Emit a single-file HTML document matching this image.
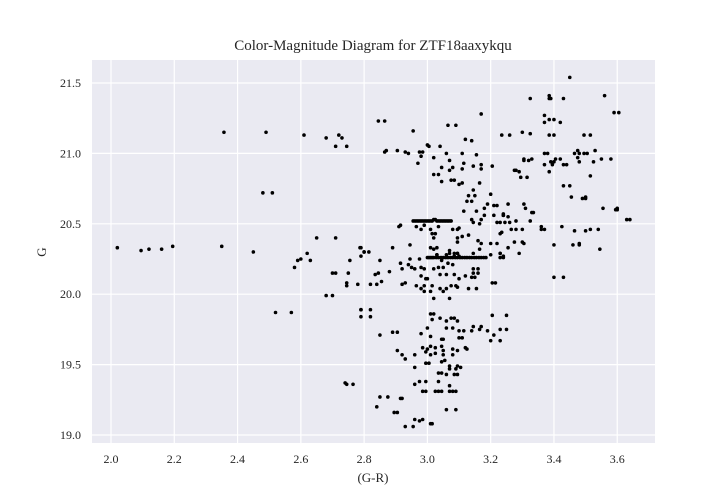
<!DOCTYPE html>
<html><head><meta charset="utf-8"><style>
body{margin:0;background:#fff;}
svg{display:block;font-family:"Liberation Serif",serif;}
</style></head><body>
<svg id="chart" width="728" height="498"></svg>
<script>
const xTicks=[2.0,2.2,2.4,2.6,2.8,3.0,3.2,3.4,3.6];
const yTicks=[19.0,19.5,20.0,20.5,21.0,21.5];
const xTickLabels=["2.0","2.2","2.4","2.6","2.8","3.0","3.2","3.4","3.6"];
const yTickLabels=["19.0","19.5","20.0","20.5","21.0","21.5"];
const samples=[
[2.357,21.15],[2.49,21.15],[2.61,21.13],[2.68,21.11],[2.72,21.13],[2.73,21.11],[2.71,21.05],[2.745,21.05],
[2.48,20.72],[2.51,20.72],[2.02,20.33],[2.095,20.31],[2.12,20.32],[2.16,20.32],[2.195,20.34],[2.35,20.34],[2.45,20.30],
[2.65,20.40],[2.71,20.40],[2.79,20.33],[2.80,20.30],[2.62,20.29],[2.59,20.24],[2.60,20.25],[2.63,20.24],[2.58,20.19],
[2.755,20.24],[2.79,20.27],[2.70,20.15],[2.71,20.15],[2.75,20.15],[2.745,20.08],[2.745,20.06],[2.78,20.07],[2.68,19.99],[2.70,19.99],
[2.52,19.87],[2.57,19.87],[2.79,19.89],[2.79,19.84],[2.74,19.37],[2.745,19.36],[2.765,19.36],
[2.845,21.23],[2.865,21.23],[2.955,21.16],[3.065,21.20],[3.09,21.20],[3.17,21.28],[3.235,21.13],[3.26,21.13],
[2.865,21.01],[2.87,21.02],[2.905,21.02],[2.93,21.01],[2.94,21.00],[2.975,21.01],[2.985,21.01],[2.98,20.98],[2.97,20.93],
[3.0,21.06],[3.005,21.05],[3.04,21.05],[3.02,20.97],[3.06,21.0],[3.07,20.95],[3.08,20.90],[3.07,20.88],[3.045,20.90],
[3.02,20.85],[3.035,20.85],[3.045,20.80],[3.075,20.81],[3.085,20.81],[3.10,20.78],[3.11,20.79],[3.11,21.0],[3.12,21.10],[3.14,21.09],
[3.155,20.99],[3.11,20.89],[3.115,20.93],[3.145,20.91],[3.17,20.92],[3.17,20.89],[3.205,20.91],[3.165,20.79],[3.145,20.74],
[3.13,20.70],[3.15,20.70],[3.20,20.71],[3.125,20.66],[3.14,20.66],[3.19,20.64],[3.18,20.61],[3.21,20.63],[3.22,20.63],[3.255,20.64],
[3.115,20.59],[3.155,20.59],[3.18,20.56],[3.21,20.56],[3.24,20.56],[3.14,20.53],[3.17,20.53],[3.145,20.51],[3.165,20.50],[3.22,20.51],[3.245,20.51],
[2.955,20.52],[2.96,20.52],[2.965,20.52],[2.97,20.52],[2.975,20.52],[2.98,20.52],[2.985,20.52],[2.99,20.52],[2.995,20.52],[3.0,20.52],[3.005,20.52],[3.01,20.52],[3.015,20.52],[3.02,20.53],[3.025,20.53],[3.03,20.52],[3.035,20.52],[3.04,20.52],[3.045,20.52],[3.05,20.52],[3.055,20.52],[3.06,20.52],[3.065,20.52],[3.07,20.52],[3.075,20.52],
[3.0,20.26],[3.005,20.26],[3.01,20.26],[3.015,20.26],[3.02,20.26],[3.028,20.26],[3.035,20.26],[3.043,20.26],[3.05,20.26],[3.058,20.26],[3.065,20.26],[3.073,20.26],[3.08,20.26],[3.088,20.26],[3.095,20.26],[3.103,20.26],[3.11,20.26],[3.118,20.26],[3.125,20.26],[3.133,20.26],[3.14,20.26],[3.148,20.26],[3.155,20.26],[3.163,20.26],[3.17,20.26],[3.178,20.26],[3.185,20.26],
[2.915,20.49],[2.91,20.48],[2.965,20.48],[2.98,20.46],[2.99,20.49],[3.01,20.46],[3.015,20.43],[3.025,20.43],[3.035,20.48],[3.02,20.40],
[3.08,20.46],[3.095,20.46],[3.10,20.47],[3.095,20.40],[3.095,20.37],[3.11,20.41],[3.13,20.42],[2.945,20.35],[2.89,20.33],
[3.01,20.33],[3.02,20.32],[3.03,20.33],[3.07,20.31],[3.03,20.28],[3.085,20.29],[3.095,20.29],[3.145,20.29],
[3.16,20.38],[3.17,20.36],[3.20,20.36],[3.22,20.36],[3.165,20.32],[3.20,20.28],[3.23,20.29],[3.24,20.27],[3.255,20.33],
[2.787,20.33],[2.80,20.30],[2.815,20.30],[2.85,20.24],[2.915,20.22],[2.94,20.21],[2.945,20.25],[2.92,20.18],[2.95,20.19],[2.96,20.18],
[2.975,20.25],[2.98,20.19],[2.99,20.18],[3.02,20.18],[3.035,20.19],[3.05,20.19],[3.065,20.22],[3.03,20.28],[3.045,20.24],[3.06,20.28],[3.08,20.21],
[2.835,20.14],[2.845,20.15],[2.88,20.16],[2.82,20.07],[2.84,20.07],[2.855,20.09],[2.92,20.07],[2.93,20.08],[2.965,20.06],[2.99,20.06],
[2.98,20.13],[2.995,20.11],[3.0,20.11],[3.015,20.06],[2.98,20.04],[2.99,20.02],[3.01,20.02],[3.04,20.04],[3.05,20.02],[3.06,20.04],[3.075,20.06],[3.09,20.06],[3.095,20.05],
[3.04,20.14],[3.06,20.14],[3.085,20.14],[3.10,20.11],[3.12,20.13],[3.14,20.12],[3.15,20.12],[3.145,20.18],[3.16,20.18],[3.145,20.15],[3.16,20.15],
[3.13,20.04],[3.155,20.04],[3.205,20.08],[3.215,20.08],[3.07,20.29],[3.085,20.27],[3.095,20.29],[3.10,20.27],[3.02,19.97],[3.07,19.97],
[2.79,19.89],[2.82,19.89],[2.82,19.84],[3.01,19.86],[3.02,19.86],[3.015,19.82],[3.04,19.83],[3.06,19.81],[3.075,19.83],[3.085,19.83],[3.095,19.81],
[2.85,19.71],[2.89,19.73],[2.905,19.73],[2.98,19.72],[3.0,19.76],[3.01,19.70],[3.06,19.76],[3.08,19.76],[3.10,19.74],[3.115,19.74],[3.14,19.74],
[3.145,19.77],[3.165,19.75],[3.17,19.77],[3.19,19.74],[3.23,19.75],[3.25,19.85],[3.25,19.75],[3.205,19.85],
[3.045,19.68],[3.05,19.68],[3.10,19.69],[3.11,19.69],[3.20,19.67],[3.21,19.71],[3.23,19.67],
[2.905,19.60],[2.92,19.57],[2.93,19.54],[2.96,19.57],[2.985,19.62],[3.0,19.61],[3.01,19.63],[2.995,19.59],[3.01,19.57],[3.025,19.62],[3.025,19.58],[3.045,19.63],[3.05,19.60],[3.05,19.57],
[3.08,19.61],[3.095,19.60],[3.08,19.57],[3.12,19.62],[3.125,19.61],[2.96,19.48],[2.995,19.51],[3.005,19.51],[3.045,19.52],[3.055,19.53],
[3.07,19.49],[3.07,19.47],[3.09,19.47],[3.095,19.49],[3.105,19.48],[3.035,19.44],[3.045,19.44],[3.06,19.43],[3.085,19.43],[3.095,19.43],
[2.96,19.36],[2.975,19.38],[2.995,19.38],[3.035,19.38],[3.07,19.35],[3.07,19.31],[3.08,19.31],[3.09,19.31],
[2.985,19.31],[2.995,19.31],[3.025,19.31],[3.035,19.31],[3.045,19.31],[2.85,19.27],[2.875,19.27],[2.915,19.26],[2.92,19.26],[2.84,19.20],
[2.895,19.16],[2.905,19.16],[3.06,19.18],[3.09,19.18],[2.93,19.06],[2.955,19.06],[2.96,19.11],[2.975,19.10],[2.985,19.11],[3.01,19.08],[3.015,19.08],
[3.45,21.54],[3.325,21.39],[3.385,21.41],[3.385,21.39],[3.39,21.39],[3.43,21.39],[3.56,21.41],[3.59,21.29],[3.605,21.29],
[3.37,21.27],[3.37,21.22],[3.385,21.24],[3.40,21.24],[3.42,21.22],[3.30,21.15],[3.325,21.14],[3.385,21.13],[3.40,21.13],[3.495,21.13],[3.515,21.13],
[3.37,21.0],[3.38,21.0],[3.305,20.96],[3.305,20.95],[3.32,20.95],[3.33,20.96],[3.37,20.92],[3.385,20.87],[3.39,20.94],[3.395,20.92],[3.40,20.94],[3.405,20.96],[3.42,20.96],[3.43,20.92],[3.44,20.92],
[3.465,21.0],[3.475,21.02],[3.48,21.0],[3.475,20.97],[3.48,20.94],[3.495,21.0],[3.505,21.0],[3.53,21.02],[3.525,20.94],[3.55,20.96],[3.58,20.96],
[3.515,20.84],[3.43,20.77],[3.45,20.77],[3.455,20.69],[3.49,20.68],[3.50,20.69],[3.50,20.68],[3.555,20.61],[3.595,20.60],[3.60,20.60],[3.60,20.61],[3.63,20.53],[3.64,20.53],
[3.275,20.88],[3.28,20.88],[3.29,20.87],[3.295,20.83],[3.315,20.83],[3.305,20.64],[3.31,20.61],[3.33,20.58],[3.335,20.58],[3.24,20.57],[3.24,20.56],[3.255,20.55],
[3.28,20.52],[3.325,20.52],[3.23,20.51],[3.26,20.51],[3.36,20.48],[3.36,20.46],[3.37,20.46],[3.425,20.48],[3.465,20.45],[3.50,20.45],[3.515,20.46],[3.54,20.46],
[3.265,20.46],[3.28,20.46],[3.30,20.46],[3.235,20.44],[3.23,20.43],[3.275,20.37],[3.30,20.37],[3.305,20.36],[3.40,20.35],[3.46,20.35],[3.48,20.36],[3.48,20.35],[3.545,20.32],
[3.29,20.29],[3.23,20.29],[3.23,20.26],[3.24,20.26],[3.40,20.12],[3.43,20.12]
];
const NS="http://www.w3.org/2000/svg";
const svg=document.getElementById('chart');
const L=92,R=655,T=60,B=443;
function sx(v){return 111+(v-2.0)*316.4;}
function sy(v){return 435-(v-19.0)*140.8;}
function mk(tag,attrs,parent){const e=document.createElementNS(NS,tag);for(const k in attrs)e.setAttribute(k,attrs[k]);(parent||svg).appendChild(e);return e;}
const bg=mk('rect',{x:L,y:T,width:R-L,height:B-T,fill:'#eaeaf2'});


const grid=mk('g',{stroke:'#fff','stroke-width':1.2});


xTicks.forEach((t,i)=>{
  mk('line',{x1:sx(t),x2:sx(t),y1:T,y2:B},grid);
  const tx=mk('text',{x:sx(t),y:463,'text-anchor':'middle','font-size':12,fill:'#262626'});
  tx.textContent=xTickLabels[i];
  
  
});
yTicks.forEach((t,i)=>{
  mk('line',{x1:L,x2:R,y1:sy(t),y2:sy(t)},grid);
  const tx=mk('text',{x:81,y:sy(t)+4,'text-anchor':'end','font-size':12,fill:'#262626'});
  tx.textContent=yTickLabels[i];
  
  
});
const pts=mk('g',{fill:'#000'});


samples.forEach(p=>{
  const c=mk('circle',{cx:sx(p[0]),cy:sy(p[1]),r:1.8},pts);
  
  
});
const title=mk('text',{x:373,y:50,'text-anchor':'middle','font-size':15,fill:'#262626'});
title.textContent='Color-Magnitude Diagram for ZTF18aaxykqu';


const xl=mk('text',{x:373,y:482,'text-anchor':'middle','font-size':13,fill:'#262626'});
xl.textContent='(G-R)';


const yl=mk('text',{x:46,y:252,'text-anchor':'middle','font-size':13,fill:'#262626',transform:'rotate(-90 46 252)'});
yl.textContent='G';


</script>
</body></html>
